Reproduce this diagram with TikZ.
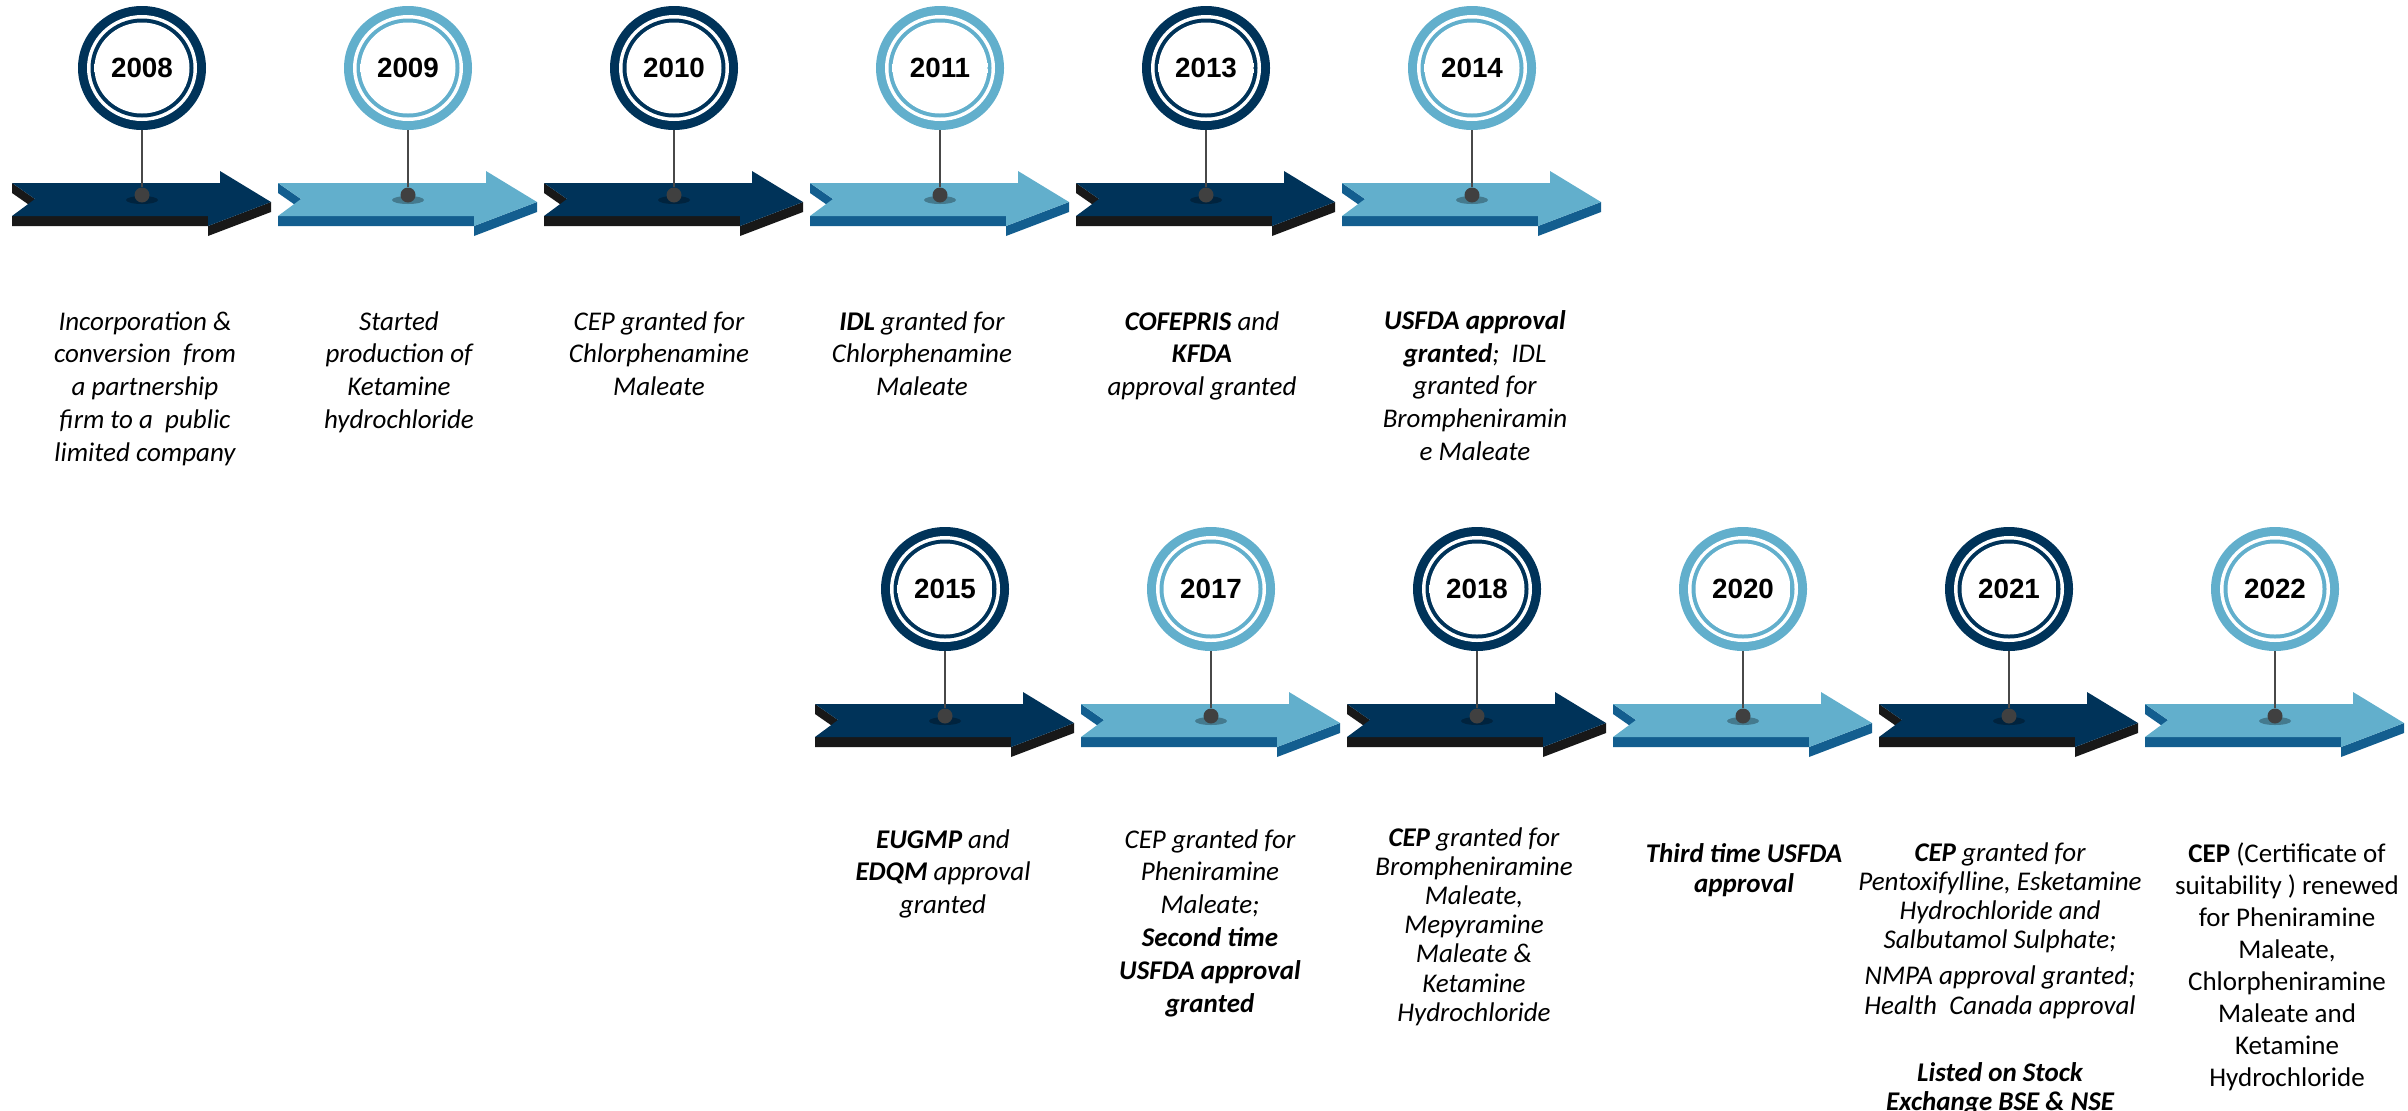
\documentclass[tikz,border=0pt]{standalone}
\usepackage{fontspec}
\setmainfont{Carlito}
\newfontfamily\yearfont{Liberation Sans}
\usetikzlibrary{shapes.geometric}
\definecolor{navyface}{RGB}{0,51,89}
\definecolor{navyside}{RGB}{24,24,24}
\definecolor{navyring}{RGB}{0,51,89}
\definecolor{lightface}{RGB}{98,175,204}
\definecolor{lightside}{RGB}{19,94,143}
\definecolor{lightring}{RGB}{98,175,204}
\definecolor{stemgray}{RGB}{72,72,72}
\definecolor{dotgray}{RGB}{64,64,64}
\pgfdeclareradialshading{inshade}{\pgfpoint{0bp}{-12bp}}{color(0bp)=(white); color(32bp)=(white); color(44bp)=(white!80!black); color(58bp)=(white!52!black)}
\tikzset{
  yearlbl/.style={ellipse, minimum width=64pt, minimum height=62pt, inner sep=0pt,
    font=\yearfont\bfseries\fontsize{13.9}{16}\selectfont},
  dotnode/.style={circle, fill=dotgray, minimum size=7.5pt, inner sep=0pt},
  stem/.style={draw=stemgray, line width=1.3pt},
  desc/.style={align=center, inner sep=0pt, anchor=north,
    font=\fontsize{13.5}{16.4}\selectfont\itshape,
    execute at begin node={\rule{0pt}{10pt}}},
}
\newcommand\milestone[5]{%
\begin{scope}[shift={(#2,#3)}]
 \fill[#4side] (0,33) -- (196,33) -- (196,43) -- (259,19) -- (259,29) -- (196,53) -- (196,43) -- (0,43) -- cycle;
 \fill[#4side] (0,0) -- (23,16) -- (23,26) -- (0,10) -- cycle;
 \fill[#4face] (0,0) -- (208,0) -- (208,-12) -- (259,19) -- (196,43) -- (196,33) -- (0,33) -- (23,16) -- cycle;
 \fill[black,opacity=.3] (130,17) ellipse [x radius=8pt, y radius=2pt];
 \fill[#4ring] (130,-115) ellipse [x radius=32pt, y radius=31pt];
 \fill[white] (130,-115) ellipse [x radius=27.5pt, y radius=26.5pt];
 \fill[#4ring] (130,-115) ellipse [x radius=25.75pt, y radius=24.75pt];
 \shade[shading=inshade] (130,-115) ellipse [x radius=23.75pt, y radius=22.75pt];
 \node[yearlbl] (#1) at (130,-115) {#5};
 \node[dotnode] (#1d) at (130,12) {};
 \draw[stem] (#1.south) -- (#1d.north);
\end{scope}}
\begin{document}
\begin{tikzpicture}[x=0.5pt,y=-0.5pt]
\useasboundingbox (0,0) rectangle (2408,1110);
% top row
\milestone{y2008}{12}{183}{navy}{2008}
\milestone{y2009}{278}{183}{light}{2009}
\milestone{y2010}{544}{183}{navy}{2010}
\milestone{y2011}{810}{183}{light}{2011}
\milestone{y2013}{1076}{183}{navy}{2013}
\milestone{y2014}{1342}{183}{light}{2014}
% bottom row
\milestone{y2015}{815}{704}{navy}{2015}
\milestone{y2017}{1081}{704}{light}{2017}
\milestone{y2018}{1347}{704}{navy}{2018}
\milestone{y2020}{1613}{704}{light}{2020}
\milestone{y2021}{1879}{704}{navy}{2021}
\milestone{y2022}{2145}{704}{light}{2022}
% texts top row
\node[desc] (t2008) at (145,311) {Incorporation \&\\conversion\ \ from\\a partnership\\firm to a\ \ public\\limited company};
\node[desc] (t2009) at (399,311) {Started\\production of\\Ketamine\\hydrochloride};
\node[desc] (t2010) at (659,311) {CEP granted for\\Chlorphenamine\\Maleate};
\node[desc] (t2011) at (922,311) {\textbf{IDL} granted for\\Chlorphenamine\\Maleate};
\node[desc] (t2013) at (1202,311) {\textbf{COFEPRIS} and\\\textbf{KFDA}\\approval granted};
\node[desc] (t2014) at (1475,310) {\textbf{USFDA approval}\\\textbf{granted};\ \ IDL\\granted for\\Brompheniramin\\e Maleate};
% texts bottom row
\node[desc] (t2015) at (943,829) {\textbf{EUGMP} and\\\textbf{EDQM} approval\\granted};
\node[desc] (t2017) at (1210,829) {CEP granted for\\Pheniramine\\Maleate;\\\textbf{Second time}\\\textbf{USFDA approval}\\\textbf{granted}};
\node[desc, font=\fontsize{13.5}{14.6}\selectfont\itshape] (t2018) at (1474,827) {\textbf{CEP} granted for\\Brompheniramine\\Maleate,\\Mepyramine\\Maleate \&\\Ketamine\\Hydrochloride};
\node[desc, font=\fontsize{13.5}{15}\selectfont\itshape] (t2020) at (1744,843) {\textbf{Third time USFDA}\\\textbf{approval}};
\node[desc, font=\fontsize{13.5}{14.6}\selectfont\itshape] (t2021) at (2000,842) {\textbf{CEP} granted for\\Pentoxifylline, Esketamine\\Hydrochloride and\\Salbutamol Sulphate;\\[3.5pt]NMPA approval granted;\\Health\ \ Canada approval};
\node[desc, font=\fontsize{13.5}{14.6}\selectfont\itshape] (t2021b) at (2000,1062) {\textbf{Listed on Stock}\\\textbf{Exchange BSE \& NSE}};
\node[desc, font=\fontsize{13.5}{16}\selectfont\upshape] (t2022) at (2287,842) {\textbf{CEP} (Certificate of\\suitability ) renewed\\for Pheniramine\\Maleate,\\Chlorpheniramine\\Maleate and\\Ketamine\\Hydrochloride};
\end{tikzpicture}
\end{document}
